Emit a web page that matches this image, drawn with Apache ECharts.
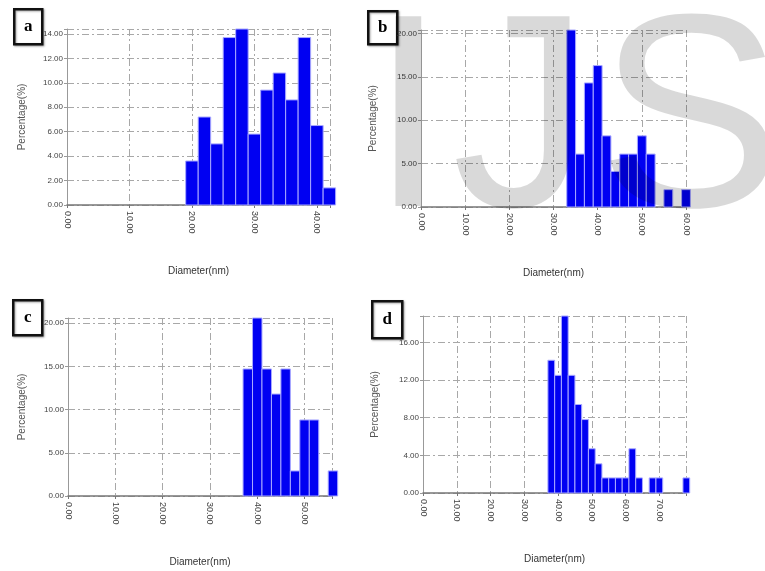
<!DOCTYPE html>
<html>
<head>
<meta charset="utf-8">
<script src="https://cdn.jsdelivr.net/npm/echarts@6/dist/echarts.min.js"></script>
<style>
    html, body { margin: 0; padding: 0; background: #fff; }
    #chart { width: 765px; height: 571px; }
</style>
</head>
<body>
<div id="chart"></div>
<script>
// bin left edges (nm), bin width is 2 nm
var binWidth = 2;
var edgesA = [19, 21, 23, 25, 27, 29, 31, 33, 35, 37, 39, 41];
var valuesA = [3.6, 7.2, 5.0, 13.7, 14.4, 5.8, 9.4, 10.8, 8.6, 13.7, 6.5, 1.4];

var edgesB = [33, 35, 37, 39, 41, 43, 45, 47, 49, 51, 53, 55, 57, 59];
var valuesB = [20.4, 6.1, 14.3, 16.3, 8.2, 4.1, 6.1, 6.1, 8.2, 6.1, 0, 2.0, 0, 2.0];

var edgesC = [37, 39, 41, 43, 45, 47, 49, 51, 53, 55];
var valuesC = [14.7, 20.6, 14.7, 11.8, 14.7, 2.9, 8.8, 8.8, 0, 2.9];

var edgesD = [37, 39, 41, 43, 45, 47, 49, 51, 53, 55, 57, 59, 61, 63, 65, 67, 69, 71, 73, 75, 77];
var valuesD = [14.1, 12.5, 18.8, 12.5, 9.4, 7.8, 4.7, 3.1, 1.6, 1.6, 1.6, 1.6, 4.7, 1.6, 0, 1.6, 1.6, 0, 0, 0, 1.6];

var panelLabels = ['a', 'b', 'c', 'd'];

var panels = [
    { edges: edgesA, values: valuesA, xMax: 42.1, yMax: 14.4, yStep: 2, yNameGap: 40,
      grid: { left: 67, top: 29, width: 263, height: 176 },
      box: [13, 8, 28, 35] },
    { edges: edgesB, values: valuesB, xMax: 60, yMax: 20.4, yStep: 5, yNameGap: 43,
      grid: { left: 421, top: 30, width: 265, height: 177 },
      box: [367, 10, 29, 33] },
    { edges: edgesC, values: valuesC, xMax: 55.8, yMax: 20.6, yStep: 5, yNameGap: 41,
      grid: { left: 68, top: 318, width: 264, height: 178 },
      box: [12, 299, 29, 35] },
    { edges: edgesD, values: valuesD, xMax: 77.9, yMax: 18.8, yStep: 4, yNameGap: 43,
      grid: { left: 423, top: 316, width: 263, height: 177 },
      box: [371, 300, 30, 37] }
];

var gridLine = { color: '#a8a8a8', width: 1, type: [7, 3, 2, 3] };
var sansFont = "'Liberation Sans', Arial, sans-serif";

// only label the real ticks, not the extent end
var tickFormatter = function(step) {
    return function(v) {
        var k = v / step;
        if (Math.abs(k - Math.round(k)) > 1e-6) {
            return '';
        }
        return v.toFixed(2);
    };
};

var renderBin = function(params, api) {
    var y = api.value(2);
    if (!y) {
        return null;
    }
    var p0 = api.coord([api.value(0), y]);
    var p1 = api.coord([api.value(1), 0]);
    return {
        type: 'rect',
        shape: { x: p0[0], y: p0[1], width: p1[0] - p0[0], height: p1[1] - p0[1] },
        style: { fill: '#0000f2', stroke: '#a9a9ff', lineWidth: 1 }
    };
};

var grids = [], xAxes = [], yAxes = [], series = [], graphics = [];

for (var i = 0; i < panels.length; i++) {
    var p = panels[i];
    grids.push(p.grid);

    xAxes.push({
        type: 'value', gridIndex: i, min: 0, max: p.xMax, interval: 10,
        name: 'Diameter(nm)', nameLocation: 'middle', nameGap: 61,
        nameTextStyle: { color: '#333', fontSize: 10, fontFamily: sansFont },
        axisLine: { show: true, lineStyle: { color: '#777', width: 1.5 } },
        axisTick: { show: true, length: 3, lineStyle: { color: '#777' } },
        axisLabel: { rotate: -90, margin: 6, color: '#444', fontSize: 9,
                     fontFamily: sansFont, formatter: tickFormatter(10) },
        splitLine: { show: true, lineStyle: gridLine }
    });

    yAxes.push({
        type: 'value', gridIndex: i, min: 0, max: p.yMax, interval: p.yStep,
        name: 'Percentage(%)', nameLocation: 'middle', nameGap: p.yNameGap, nameRotate: 90,
        nameTextStyle: { color: '#555', fontSize: 10, fontFamily: sansFont },
        axisLine: { show: true, lineStyle: { color: '#999', width: 1 } },
        axisTick: { show: true, length: 3, lineStyle: { color: '#999' } },
        axisLabel: { margin: 4, color: '#444', fontSize: 8, fontFamily: sansFont,
                     formatter: tickFormatter(p.yStep) },
        splitLine: { show: true, lineStyle: gridLine }
    });

    var data = [];
    for (var j = 0; j < p.edges.length; j++) {
        data.push([p.edges[j], p.edges[j] + binWidth, p.values[j]]);
    }
    series.push({
        type: 'custom', xAxisIndex: i, yAxisIndex: i,
        renderItem: renderBin, data: data, clip: false, z: 3
    });

    graphics.push({
        type: 'group', left: p.box[0], top: p.box[1],
        children: [
            { type: 'rect', shape: { x: 0, y: 0, width: p.box[2], height: p.box[3] },
              style: { fill: '#fff', stroke: '#111', lineWidth: 2.5,
                       shadowColor: 'rgba(0,0,0,0.35)', shadowBlur: 2, shadowOffsetX: 1, shadowOffsetY: 1 } },
            { type: 'text', x: p.box[2] / 2, y: p.box[3] / 2,
              style: { text: panelLabels[i], fill: '#000', align: 'center', verticalAlign: 'middle',
                       font: "bold 17px 'Liberation Serif', 'Times New Roman', serif" } }
        ]
    });
}

// journal watermark over panel b, one letter at a time
var marks = [['I', 370], ['J', 452], ['S', 598]];
for (var m = 0; m < marks.length; m++) {
    graphics.push({
        type: 'text', x: marks[m][1], y: 130, z: 100, silent: true,
        style: { text: marks[m][0], fill: 'rgba(0,0,0,0.15)', align: 'left', verticalAlign: 'middle',
                 font: "276px 'Liberation Sans', Arial, sans-serif" }
    });
}

var chart = echarts.init(document.getElementById('chart'));
chart.setOption({
    animation: false,
    backgroundColor: '#fff',
    grid: grids,
    xAxis: xAxes,
    yAxis: yAxes,
    series: series,
    graphic: graphics
});
</script>
</body>
</html>
